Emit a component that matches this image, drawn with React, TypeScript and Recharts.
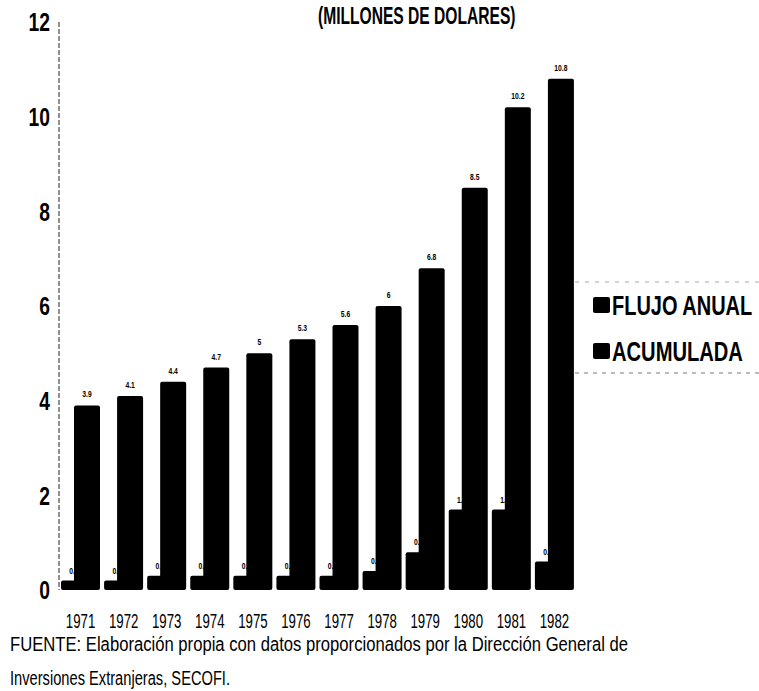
import { BarChart, Bar, XAxis, YAxis, Legend, LabelList } from 'recharts';

// Inversión extranjera, millones de dólares
const years = ['1971', '1972', '1973', '1974', '1975', '1976', '1977', '1978', '1979', '1980', '1981', '1982'];
const flujoAnual = [0.2, 0.2, 0.3, 0.3, 0.3, 0.3, 0.3, 0.4, 0.8, 1.7, 1.7, 0.6];
const acumulada = [3.9, 4.1, 4.4, 4.7, 5, 5.3, 5.6, 6, 6.8, 8.5, 10.2, 10.8];
const yTicks = [0, 2, 4, 6, 8, 10, 12];
const seriesOrder = ['flujo', 'acumulada'];

const data = years.map((year, i) => ({
  year,
  flujo: flujoAnual[i],
  acumulada: acumulada[i],
}));

const FONT = '"Liberation Sans", Arial, sans-serif';
const INK = '#000';

// texto condensado (la fuente original es una Helvetica Condensed)
function NarrowText({ x, y, sx, anchor = 'start', size, bold = false, dy, children }: any) {
  return (
    <text
      transform={`translate(${x},${y}) scale(${sx},1)`}
      dy={dy}
      textAnchor={anchor}
      fontFamily={FONT}
      fontWeight={bold ? 'bold' : 'normal'}
      fontSize={size}
      fill={INK}
    >
      {children}
    </text>
  );
}

function YTick({ x, y, payload }: any) {
  return <NarrowText x={x} y={y} dy="0.36em" sx={0.74} anchor="end" size={26} bold>{payload.value}</NarrowText>;
}

function XTick({ x, y, payload }: any) {
  return <NarrowText x={x} y={y + 38} sx={0.63} anchor="middle" size={21}>{payload.value}</NarrowText>;
}

function ValueLabel(offset: number) {
  return (props: any) => {
    const { x, y, width, value } = props;
    return (
      <NarrowText x={Number(x) + Number(width) / 2} y={Number(y) - offset} sx={0.75} anchor="middle" size={9} bold>
        {value}
      </NarrowText>
    );
  };
}

const legendScale = [0.714, 0.72];

function LegendBox({ payload }: any) {
  const items = [...(payload || [])].sort(
    (a: any, b: any) => seriesOrder.indexOf(a.dataKey) - seriesOrder.indexOf(b.dataKey)
  );
  return (
    <svg width={184} height={94} style={{ display: 'block' }}>
      <line x1={0} y1={1} x2={184} y2={1} stroke="#aaa" strokeDasharray="4 6" />
      <line x1={0} y1={92} x2={184} y2={92} stroke="#777" strokeDasharray="4 5" />
      {items.map((item: any, i: number) => {
        const cy = 24 + i * 46;
        return (
          <g key={item.value}>
            <rect x={18} y={cy - 8} width={17} height={16} rx={2} fill={INK} />
            <NarrowText x={37} y={cy} dy="0.36em" sx={legendScale[i]} size={28} bold>
              {item.value}
            </NarrowText>
          </g>
        );
      })}
    </svg>
  );
}

export default function App() {
  return (
    <div style={{ position: 'absolute', left: 0, top: 0, width: 759, height: 691, background: '#fff' }}>
      <BarChart
        width={759}
        height={691}
        data={data}
        barGap={-13}
        margin={{ top: 22, right: 183, bottom: 41, left: 0 }}
      >
        <XAxis
          dataKey="year"
          height={60}
          axisLine={false}
          tickLine={false}
          tickSize={0}
          tickMargin={0}
          interval={0}
          tick={<XTick />}
        />
        <YAxis
          yAxisId="left"
          width={59}
          domain={[0, 12]}
          ticks={yTicks}
          interval={0}
          tickLine={false}
          tickSize={0}
          tickMargin={9}
          axisLine={{ stroke: '#222', strokeDasharray: '5 2' }}
          tick={<YTick />}
        />
        <YAxis
          yAxisId="right"
          orientation="right"
          width={0}
          domain={[0, 12]}
          tick={false}
          tickLine={false}
          axisLine={{ stroke: '#222', strokeDasharray: '4 3' }}
        />
        <Legend
          layout="vertical"
          align="center"
          verticalAlign="middle"
          content={<LegendBox />}
          wrapperStyle={{ left: 575, top: 281, width: 184, height: 94 }}
        />
        <Bar yAxisId="left" dataKey="flujo" name="FLUJO ANUAL" fill={INK} barSize={26} radius={2} isAnimationActive={false}>
          <LabelList dataKey="flujo" content={ValueLabel(7)} />
        </Bar>
        <Bar yAxisId="left" dataKey="acumulada" name="ACUMULADA" fill={INK} barSize={26} radius={2} isAnimationActive={false}>
          <LabelList dataKey="acumulada" content={ValueLabel(8)} />
        </Bar>
      </BarChart>
      <svg
        width={759}
        height={691}
        style={{ position: 'absolute', left: 0, top: 0, pointerEvents: 'none' }}
      >
        <NarrowText x={318} y={24} sx={0.65} size={24} bold>
          (MILLONES DE DOLARES)
        </NarrowText>
        <text
          x={10}
          y={651}
          fontFamily={FONT}
          fontSize={20}
          textLength={618}
          lengthAdjust="spacingAndGlyphs"
          fill={INK}
        >
          FUENTE: Elaboración propia con datos proporcionados por la Dirección General de
        </text>
        <text
          x={10}
          y={685}
          fontFamily={FONT}
          fontSize={20}
          textLength={220}
          lengthAdjust="spacingAndGlyphs"
          fill={INK}
        >
          Inversiones Extranjeras, SECOFI.
        </text>
      </svg>
    </div>
  );
}
